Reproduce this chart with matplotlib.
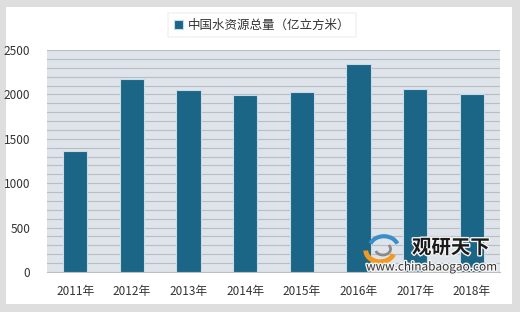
import matplotlib
matplotlib.use('Agg')
import matplotlib.pyplot as plt
import matplotlib.patheffects as pe
from matplotlib.patches import Rectangle, Arc

plt.rcParams['font.family'] = ['Noto Sans CJK SC', 'DejaVu Sans']

years = ['2011年', '2012年', '2013年', '2014年', '2015年', '2016年', '2017年', '2018年']
water = [1365, 2178, 2054, 1998, 2031, 2346, 2065, 2002]
series_name = '中国水资源总量（亿立方米）'

fig = plt.figure(figsize=(5.2, 3.12), dpi=100)
fig.patch.set_facecolor('#dedede')
# white panel
fig.patches.append(Rectangle((6 / 520, 8 / 312), 506 / 520, 297 / 312, transform=fig.transFigure,
                             facecolor='white', edgecolor='none', zorder=-5))

ax = fig.add_axes([47 / 520, 40 / 312, 453 / 520, 222 / 312])
ax.set_facecolor('#dfe4ea')
x = range(len(years))
ax.bar(x, water, width=0.43, color='#1b6586', edgecolor='#c9dbe6', linewidth=0.8,
       zorder=3, label=series_name)

ax.set_xlim(-0.5, 7.5)
ax.set_ylim(0, 2500)
ax.set_yticks(range(0, 2501, 500))
ax.set_yticks(range(0, 2501, 100), minor=True)
ax.grid(axis='y', which='both', color='#b9bec4', linewidth=0.8, zorder=1)
ax.set_axisbelow(True)
ax.set_xticks(list(x))
ax.set_xticklabels(years)
ax.tick_params(axis='both', which='both', length=0, labelsize=8.5, colors='#333333')
ax.tick_params(axis='x', pad=9)
ax.tick_params(axis='y', pad=12)
for s in ['top', 'right', 'left']:
    ax.spines[s].set_visible(False)
ax.spines['bottom'].set_color('#b9bec4')

leg = fig.legend(loc='center', bbox_to_anchor=(262 / 520, 1 - 25 / 312), fontsize=9,
                 frameon=True, fancybox=False, handlelength=0.7, handleheight=0.7,
                 handletextpad=0.4, borderpad=0.45)
leg.get_frame().set_edgecolor('#f0f0f0')
leg.get_frame().set_linewidth(1.2)
for t in leg.get_texts():
    t.set_color('#333333')

# watermark
halo = [pe.withStroke(linewidth=2, foreground='#f4f4f4')]
fig.text(451 / 520, 1 - 248 / 312, '观研天下', fontsize=14, fontweight='bold', color='#1a1a1a',
         ha='center', va='center', zorder=10, path_effects=halo)
fig.text(432 / 520, 1 - 267 / 312, 'www.chinabaogao.com', fontsize=8.5, color='#333333',
         ha='center', va='center', zorder=10, path_effects=halo)
lax = fig.add_axes([363 / 520, 1 - 264 / 312, 38 / 520, 30 / 312])
lax.set_xlim(-1, 1)
lax.set_ylim(-1, 1)
lax.axis('off')
lax.add_patch(Arc((0.1, 0.1), 1.5, 1.5, theta1=20, theta2=160, color='#3a8fc8', linewidth=3))
lax.add_patch(Arc((-0.1, -0.1), 1.5, 1.5, theta1=180, theta2=340, color='#f29a1f', linewidth=3.5))
lax.add_patch(Arc((0.05, 0), 0.8, 0.8, theta1=200, theta2=40, color='#8a8a8a', linewidth=2))

fig.savefig('out.png', dpi=100, facecolor=fig.get_facecolor())
